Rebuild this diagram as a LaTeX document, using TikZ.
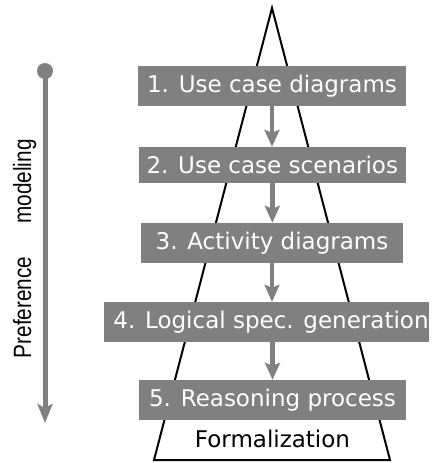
\documentclass[tikz,border=0pt]{standalone}
\usepackage{fontspec}
\setmainfont{DejaVu Sans}
\newfontfamily\sidefont{Liberation Sans}
\usetikzlibrary{arrows.meta}
\definecolor{boxgray}{RGB}{128,128,128}
\begin{document}
\begin{tikzpicture}[x=1pt,y=-1pt,
  stepbox/.style={fill=boxgray, text=white, inner sep=0pt, minimum height=40pt,
    font=\fontsize{23}{27}\selectfont},
  flowarrow/.style={draw=boxgray, line width=4.5pt, -{Stealth[length=17pt,width=15pt,inset=3pt]}},
  sidelabel/.style={rotate=90, anchor=base, inner sep=0pt, font=\sidefont\fontsize{25}{29}\selectfont},
  pyramid/.style={draw=black, line width=2pt, line join=miter}
]
\useasboundingbox (0,0) rectangle (433,463);
% pyramid
\coordinate (apex) at (272,8);
\coordinate (bl) at (154,460);
\coordinate (br) at (390,460);
\draw[pyramid] (apex) -- (bl) -- (br) -- cycle;
\node[anchor=base, inner sep=0pt, font=\fontsize{23}{27}\selectfont] (formal) at (272.5,447) {Formalization};
% boxes
\node[stepbox, minimum width=268pt] (b1) at (272,86) {1. Use case diagrams};
\node[stepbox, minimum width=267pt, minimum height=36pt] (b2) at (272.3,165) {2. Use case scenarios};
\node[stepbox, minimum width=262pt] (b3) at (272,243) {3. Activity diagrams};
\node[stepbox, minimum width=323pt] (b4) at (266.5,322) {\hspace*{9pt}4. Logical spec. generation};
\node[stepbox, minimum width=267pt] (b5) at (272.5,400) {5. Reasoning process};
% arrows
\draw[flowarrow] (b1.south) -- (b1.south |- b2.north);
\draw[flowarrow] (b2.south) -- (b2.south |- b3.north);
\draw[flowarrow] (b3.south) -- (b3.south |- b4.north);
\draw[flowarrow] (b5.north |- b4.south) -- (b5.north);
% side arrow
\node[circle, fill=boxgray, minimum size=16pt, inner sep=0pt] (dot) at (45,71) {};
\coordinate (pend) at (45,423);
\draw[draw=boxgray, line width=5pt, -{Stealth[length=19pt,width=15pt,inset=4pt]}] (dot.center) -- (pend);
\node[sidelabel] (pref) at (31,307.5) {\scalebox{0.83}[1]{Preference}};
\node[sidelabel] (model) at (31,181.5) {\scalebox{0.83}[1]{modeling}};
\end{tikzpicture}
\end{document}
